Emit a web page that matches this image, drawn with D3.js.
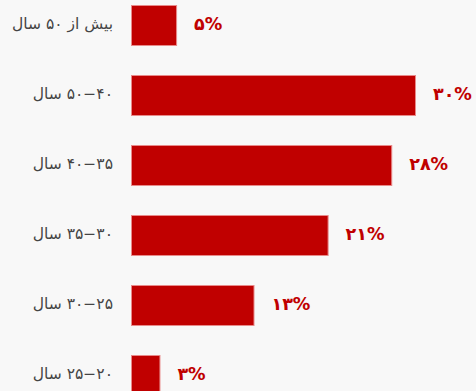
<!DOCTYPE html>
<html>
<head>
<meta charset="utf-8">
<script src="https://cdn.jsdelivr.net/npm/d3@7"></script>
<style>
html,body{margin:0;padding:0;background:#f8f8f8;overflow:hidden;}
svg{display:block;}
</style>
</head>
<body>
<svg id="chart" width="476" height="391"></svg>
<script>
const categories = ["بیش از ۵۰ سال", "۵۰−۴۰ سال", "۴۰−۳۵ سال", "۳۵−۳۰ سال", "۳۰−۲۵ سال", "۲۵−۲۰ سال"];
const values = [4.85, 30, 27.5, 20.8, 13, 3.1];
const valueLabels = ["۵%", "۳۰%", "۲۸%", "۲۱%", "۱۳%", "۳%"];

const W = 476, H = 391;
const svg = d3.select("#chart");
svg.append("rect").attr("width", W).attr("height", H).attr("fill", "#f8f8f8");

const x = d3.scaleLinear().domain([0, 30]).range([131, 416]);
const y = d3.scaleBand().domain(categories).range([5, 396]).paddingInner(29/70).paddingOuter(0);

const data = categories.map((c, i) => ({c, v: values[i], l: valueLabels[i]}));

svg.selectAll("rect.bar").data(data).enter().append("rect")
  .attr("class", "bar")
  .attr("x", x(0) + 0.5)
  .attr("y", d => y(d.c) + 0.5)
  .attr("width", d => x(d.v) - x(0) - 1)
  .attr("height", y.bandwidth() - 1)
  .attr("fill", "#c00000")
  .attr("stroke", "#e88a8a")
  .attr("stroke-width", 1);

svg.selectAll("text.cat").data(data).enter().append("text")
  .attr("class", "cat")
  .attr("x", 113)
  .attr("y", d => y(d.c) + y.bandwidth() / 2 - 2)
  .attr("dy", "0.35em")
  .attr("direction", "rtl")
  .attr("text-anchor", "start")
  .attr("font-family", "DejaVu Sans, sans-serif")
  .attr("font-size", 15.5)
  .attr("fill", "#444")
  .text(d => d.c);

svg.selectAll("text.val").data(data).enter().append("text")
  .attr("class", "val")
  .attr("x", d => x(d.v) + 17)
  .attr("y", d => y(d.c) + y.bandwidth() / 2 - 2)
  .attr("dy", "0.35em")
  .attr("font-family", "DejaVu Sans, sans-serif")
  .attr("font-weight", "bold")
  .attr("font-size", 17.5)
  .attr("fill", "#c00000")
  .text(d => d.l);
</script>
</body>
</html>
